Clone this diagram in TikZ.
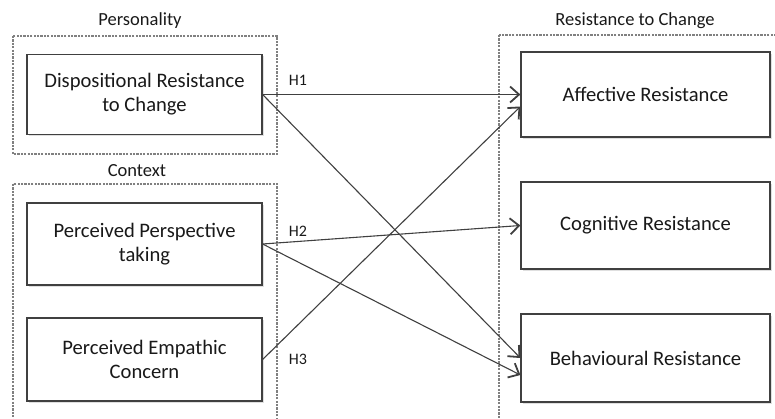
\documentclass[tikz,border=0pt]{standalone}
\usepackage{fontspec}
\setmainfont{Carlito}
\usepackage{tikz}
\usetikzlibrary{arrows.meta,shadows}

\begin{document}
\begin{tikzpicture}[x=1pt,y=-1pt]
                      \tikzstyle{var}=[draw=black!75,line width=1.2pt,fill=white,align=center,font=\fontsize{20.6}{24}\selectfont,text=black!90,drop shadow={opacity=0.25,shadow xshift=1.5pt,shadow yshift=-1.5pt}]
                      \tikzstyle{group}=[draw=black!50,line width=1.3pt,dash pattern=on 2.2pt off 1.2pt]
                      \tikzstyle{title}=[font=\fontsize{18.5}{22}\selectfont,text=black!90]
                      \tikzstyle{hyp}=[font=\fontsize{16}{19}\selectfont,text=black!90]
                      \tikzstyle{path}=[draw=black!75,line width=1.1pt,-{Straight Barb[length=9pt,width=16pt,line width=1.8pt]}]
                      \clip (0,0) rectangle (775,418);
                      % groups
                      \draw[group] (13,36) rectangle (277,154);
                      \draw[group] (13,184) rectangle (277,430);
                      \draw[group] (499,35) rectangle (790,430);
                      \node[title] (pers) at (140,21) {Personality};
                      \node[title] (ctx) at (137,171) {Context};
                      \node[title] (rtc) at (635,21) {Resistance to Change};
                      % variables
                      \node[var,minimum width=235pt,minimum height=80pt] (drc) at (144.5,94.5) {Dispositional Resistance\\to Change};
                      \node[var,minimum width=235pt,minimum height=82pt] (ppt) at (144.5,244) {Perceived Perspective\\taking};
                      \node[var,minimum width=235pt,minimum height=83pt] (pec) at (144.5,359.5) {Perceived Empathic\\Concern};
                      \node[var,minimum width=249pt,minimum height=85pt] (aff) at (645.5,94.5) {Affective Resistance};
                      \node[var,minimum width=249pt,minimum height=87pt] (cog) at (645.5,225.5) {Cognitive Resistance};
                      \node[var,minimum width=249pt,minimum height=88pt] (beh) at (645.5,358) {Behavioural Resistance};
                      % hypotheses
                      \draw[path] (drc.east) -- (aff.west);
                      \draw[path] (drc.east) -- (beh.west);
                      \draw[path] (ppt.east) -- (cog.west);
                      \draw[path] (ppt.east) -- ([yshift=-17pt]beh.west);
                      \draw[path] (pec.east) -- ([yshift=-12pt]aff.west);
                      \node[hyp] (h1) at (298,80) {H1};
                      \node[hyp] (h2) at (298,231) {H2};
                      \node[hyp] (h3) at (298,359) {H3};
                  \end{tikzpicture}
\end{document}
